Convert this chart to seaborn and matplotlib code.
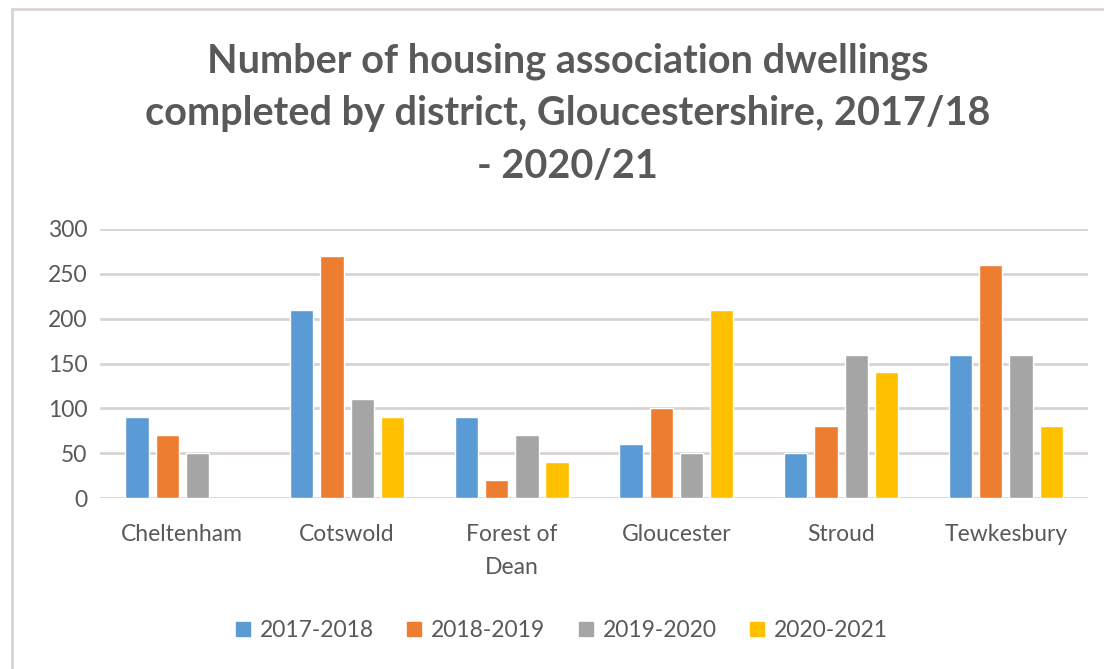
import matplotlib
matplotlib.use("Agg")
import matplotlib.pyplot as plt
import seaborn as sns
import pandas as pd
from matplotlib.lines import Line2D

districts = ["Cheltenham", "Cotswold", "Forest of\nDean", "Gloucester", "Stroud", "Tewkesbury"]
years = ["2017-2018", "2018-2019", "2019-2020", "2020-2021"]
v_2017_18 = [90, 210, 90, 60, 50, 160]
v_2018_19 = [70, 270, 20, 100, 80, 260]
v_2019_20 = [50, 110, 70, 50, 160, 160]
v_2020_21 = [0, 90, 40, 210, 140, 80]
colors = ["#5B9BD5", "#ED7D31", "#A5A5A5", "#FFC000"]
yticks = [0, 50, 100, 150, 200, 250, 300]

series = [v_2017_18, v_2018_19, v_2019_20, v_2020_21]
df = pd.DataFrame(
    [(d, y, v) for y, vals in zip(years, series) for d, v in zip(districts, vals)],
    columns=["district", "year", "count"],
)

sns.set_theme(style="white")
plt.rcParams["font.family"] = ["Lato", "DejaVu Sans"]

fig = plt.figure(figsize=(11.04, 6.69), dpi=100)
ax = fig.add_axes([0.0906, 0.2556, 0.895, 0.4021])

sns.barplot(data=df, x="district", y="count", hue="year", hue_order=years,
            order=districts, palette=colors, width=0.735, gap=0.23,
            saturation=1, ax=ax, legend=False)

ax.set_ylim(0, 300)
ax.set_xlim(-0.5, 5.5)
ax.set_yticks(yticks)
ax.yaxis.grid(True, color="#D9D4D2", linewidth=2)
ax.set_axisbelow(True)
for s in ax.spines.values():
    s.set_visible(False)
ax.set_xlabel("")
ax.set_ylabel("")
ax.tick_params(axis="both", length=0, labelsize=16.5, labelcolor="#595959")
ax.tick_params(axis="y", pad=9)
ax.tick_params(axis="x", pad=19)
for lbl in ax.get_xticklabels():
    lbl.set_linespacing(1.7)

fig.text(0.514, 0.937, "Number of housing association dwellings\n"
         "completed by district, Gloucestershire, 2017/18\n- 2020/21",
         ha="center", va="top", fontsize=28.5, fontweight="bold",
         color="#595959", linespacing=1.52)

handles = [Line2D([], [], marker="s", linestyle="", markersize=10,
                  markerfacecolor=c, markeredgecolor=c) for c in colors]
fig.legend(handles, years, loc="center", bbox_to_anchor=(0.508, 0.058),
           ncol=4, frameon=False, fontsize=16.5, labelcolor="#595959",
           handlelength=0.8, handletextpad=0.35, columnspacing=1.35)

# outer chart frame
fig.add_artist(Line2D([0.0109, 0.0109], [0, 0.9865], transform=fig.transFigure,
                      color="#D9D4D2", linewidth=2))
fig.add_artist(Line2D([0.0109, 1.0], [0.9865, 0.9865], transform=fig.transFigure,
                      color="#D9D4D2", linewidth=2))

fig.savefig("out.png", dpi=100, facecolor="white")
